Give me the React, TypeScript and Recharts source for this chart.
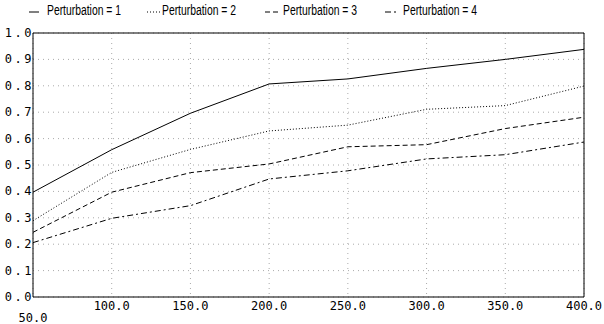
import { CartesianGrid, Line, LineChart, ReferenceLine, XAxis, YAxis } from "recharts";

const sizes = [50, 100, 150, 200, 250, 300, 350, 400];
const pert1 = [0.397, 0.558, 0.696, 0.807, 0.826, 0.866, 0.9, 0.938];
const pert2 = [0.289, 0.472, 0.559, 0.629, 0.651, 0.711, 0.725, 0.799];
const pert3 = [0.245, 0.397, 0.471, 0.504, 0.569, 0.577, 0.638, 0.681];
const pert4 = [0.206, 0.298, 0.346, 0.447, 0.478, 0.523, 0.539, 0.587];
const yTicks = [0, 0.1, 0.2, 0.3, 0.4, 0.5, 0.6, 0.7, 0.8, 0.9, 1.0];
const seriesNames = ["Perturbation = 1", "Perturbation = 2", "Perturbation = 3", "Perturbation = 4"];

const dashes = ["", "1 2", "5 3", "6 3 2 3"];
const legendPos = [
  { line: 29, text: 47 },
  { line: 147, text: 162 },
  { line: 265, text: 283 },
  { line: 385, text: 403 },
];

const data = sizes.map((s, i) => ({ size: s, p1: pert1[i], p2: pert2[i], p3: pert3[i], p4: pert4[i] }));

const mono = "'DejaVu Sans Mono', monospace";
const PLOT_LEFT = 33;
const PLOT_BOTTOM = 297;

function XTick({ x, payload }: any) {
  const low = payload.value === 50;
  return (
    <text x={x} y={PLOT_BOTTOM + (low ? 25 : 13)} textAnchor="middle" fontFamily={mono} fontSize={12} fill="#000">
      {payload.value.toFixed(1)}
    </text>
  );
}

function YTick({ y, payload }: any) {
  return (
    <text x={PLOT_LEFT + 1} y={y + 4} textAnchor="end" fontFamily={mono} fontSize={12} letterSpacing={2.5} fill="#000">
      {payload.value.toFixed(1)}
    </text>
  );
}

export default function App() {
  return (
    <div style={{ position: "relative", width: 604, height: 324, background: "#fff" }}>
      <style>{"body{margin:0}"}</style>
      {seriesNames.map((name, i) => (
        <div key={name}>
          <svg style={{ position: "absolute", left: legendPos[i].line, top: 10 }} width={14} height={4}>
            <line x1={0} x2={i === 0 ? 10 : 13} y1={2} y2={2} stroke="#000" strokeDasharray={dashes[i]} />
          </svg>
          <span
            style={{
              position: "absolute",
              left: legendPos[i].text,
              top: 2,
              fontFamily: "'Liberation Sans', Arial, sans-serif",
              fontSize: 14,
              color: "#000",
              whiteSpace: "nowrap",
              transform: "scaleX(0.74)",
              transformOrigin: "left center",
            }}
          >
            {name}
          </span>
        </div>
      ))}
      <LineChart width={604} height={324} data={data} margin={{ top: 33, right: 20, bottom: 0, left: 0 }}>
        <CartesianGrid stroke="#aaa" strokeDasharray="1 4" />
        <XAxis
          dataKey="size"
          type="number"
          domain={[50, 400]}
          ticks={sizes}
          height={27}
          tickLine={false}
          axisLine={{ stroke: "#000" }}
          tick={<XTick />}
          interval={0}
        />
        <YAxis
          type="number"
          domain={[0, 1]}
          ticks={yTicks}
          width={33}
          tickLine={false}
          axisLine={{ stroke: "#000" }}
          tick={<YTick />}
          interval={0}
        />
        <ReferenceLine y={1} stroke="#000" />
        <ReferenceLine x={400} stroke="#000" />
        <Line dataKey="p1" stroke="#000" strokeWidth={1} dot={false} isAnimationActive={false} />
        <Line dataKey="p2" stroke="#000" strokeWidth={1} strokeDasharray={dashes[1]} dot={false} isAnimationActive={false} />
        <Line dataKey="p3" stroke="#000" strokeWidth={1} strokeDasharray={dashes[2]} dot={false} isAnimationActive={false} />
        <Line dataKey="p4" stroke="#000" strokeWidth={1} strokeDasharray={dashes[3]} dot={false} isAnimationActive={false} />
      </LineChart>
    </div>
  );
}
